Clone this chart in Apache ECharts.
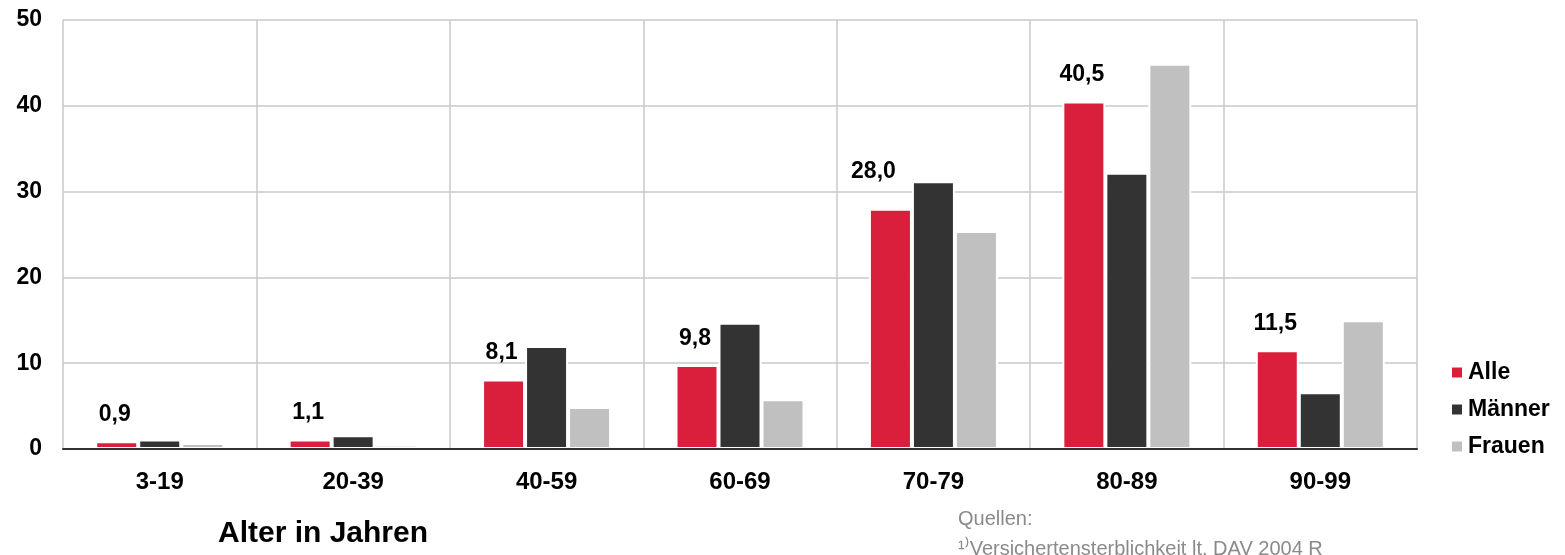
<!DOCTYPE html>
<html>
<head>
<meta charset="utf-8">
<script src="https://cdn.jsdelivr.net/npm/echarts@6/dist/echarts.min.js"></script>
<style>
html,body{margin:0;padding:0;background:#fff;}
#c{width:1565px;height:555px;}
</style>
</head>
<body>
<div id="c"></div>
<script>
const categories = ['3-19','20-39','40-59','60-69','70-79','80-89','90-99'];
const alle   = [0.9, 1.1, 8.1, 9.8, 28.0, 40.5, 11.5];
const maenner= [1.1, 1.6, 12.0, 14.7, 31.2, 32.2, 6.6];
const frauen = [0.7, 0.5, 4.9, 5.8, 25.4, 44.9, 15.0];
const yTicks = [0, 10, 20, 30, 40, 50];
const seriesNames = ['Alle','Männer','Frauen'];
const xAxisTitle = 'Alter in Jahren';
const sourceLines = ['Quellen:', '\u00B9\u207EVersichertensterblichkeit lt. DAV 2004 R'];

const FONT = '"Liberation Sans", Arial, sans-serif';
const colors = ['#da1f3d', '#333333', '#c0c0c0'];

const chart = echarts.init(document.getElementById('c'), null, {renderer: 'canvas'});

const alleData = alle.map((v, i) => {
  const item = {value: v};
  if (i === 4) item.label = {offset: [-17, -11]};
  return item;
});

const barBase = {
  type: 'bar',
  xAxisIndex: 0,
  barWidth: 43,
  barGap: '0%',
  itemStyle: {borderColor: '#ffffff', borderWidth: 2}
};

chart.setOption({
  animation: false,
  textStyle: {fontFamily: FONT},
  grid: {left: 63, right: 148, top: 20, bottom: 106, containLabel: false},
  legend: {
    orient: 'vertical',
    left: 1445,
    top: 356,
    itemWidth: 12,
    itemHeight: 12,
    itemGap: 14,
    icon: 'rect',
    data: seriesNames,
    textStyle: {fontFamily: FONT, fontSize: 23, fontWeight: 'bold', color: '#000', padding: [0, 0, 0, 0]}
  },
  xAxis: [{
    type: 'category',
    data: categories,
    axisLine: {show: false},
    axisTick: {show: false},
    axisLabel: {fontFamily: FONT, fontSize: 24, fontWeight: 'bold', color: '#000', margin: 21},
    splitLine: {show: true, lineStyle: {color: '#c8c8c8', width: 1.5}}
  }, {
    type: 'category',
    data: categories,
    position: 'bottom',
    z: 10,
    axisLine: {show: true, lineStyle: {color: '#333', width: 2}},
    axisTick: {show: false},
    axisLabel: {show: false},
    splitLine: {show: false}
  }],
  yAxis: {
    type: 'value',
    min: yTicks[0],
    max: yTicks[yTicks.length - 1],
    interval: yTicks[1] - yTicks[0],
    axisLine: {show: false},
    axisTick: {show: false},
    axisLabel: {fontFamily: FONT, fontSize: 23, fontWeight: 'bold', color: '#000', margin: 21},
    splitLine: {show: true, lineStyle: {color: '#c8c8c8', width: 1.5}}
  },
  series: [
    Object.assign({}, barBase, {
      name: seriesNames[0], data: alleData, itemStyle: Object.assign({}, barBase.itemStyle, {color: colors[0]}),
      label: {
        show: true, position: 'top', distance: 15, offset: [-2, 0],
        fontFamily: FONT, fontSize: 23, fontWeight: 'bold', color: '#000',
        formatter: p => p.value.toFixed(1).replace('.', ',')
      },
      z: 3
    }),
    Object.assign({}, barBase, {name: seriesNames[1], data: maenner, itemStyle: Object.assign({}, barBase.itemStyle, {color: colors[1]})}),
    Object.assign({}, barBase, {name: seriesNames[2], data: frauen, itemStyle: Object.assign({}, barBase.itemStyle, {color: colors[2]})})
  ],
  graphic: [
    {type: 'text', left: 218, top: 519, style: {text: xAxisTitle, fontFamily: FONT, fontSize: 30, fontWeight: 'bold', fill: '#000'}},
    {type: 'text', left: 958, top: 509, style: {text: sourceLines[0], fontFamily: FONT, fontSize: 20, fill: '#8a8a8a'}},
    {type: 'text', left: 958, top: 539, style: {text: sourceLines[1], fontFamily: FONT, fontSize: 20, fill: '#8a8a8a'}}
  ]
});
</script>
</body>
</html>
